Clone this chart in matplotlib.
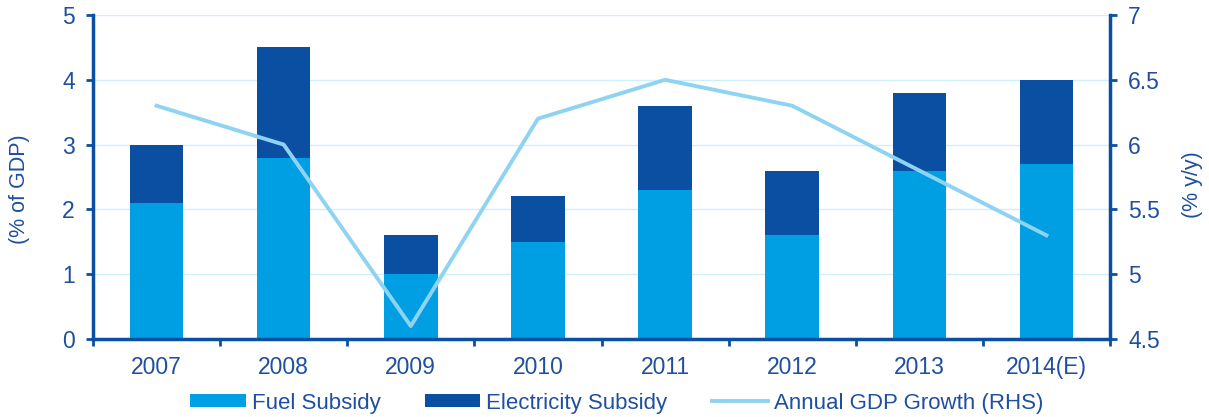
import matplotlib
matplotlib.use("Agg")
import matplotlib.pyplot as plt
import numpy as np

plt.rcParams['font.family'] = ['Liberation Sans', 'DejaVu Sans']

years = ["2007", "2008", "2009", "2010", "2011", "2012", "2013", "2014(E)"]
fuel = [2.1, 2.8, 1.0, 1.5, 2.3, 1.6, 2.6, 2.7]
electricity = [0.9, 1.7, 0.6, 0.7, 1.3, 1.0, 1.2, 1.3]
gdp_growth = [6.3, 6.0, 4.6, 6.2, 6.5, 6.3, 5.8, 5.3]

c_fuel = "#009FE3"
c_elec = "#0B4FA2"
c_line = "#8ED3F2"
c_text = "#1E4FA0"
c_spine = "#0B4FA2"
c_grid = "#CFEFFB"

fig = plt.figure(figsize=(12.09, 4.17), dpi=100)
ax = fig.add_axes([93/1209, 1-339/417, (1110-93)/1209, (339-15)/417])
x = np.arange(len(years))
w = 0.42
b1 = ax.bar(x, fuel, w, color=c_fuel, label="Fuel Subsidy", zorder=2)
b2 = ax.bar(x, electricity, w, bottom=fuel, color=c_elec, label="Electricity Subsidy", zorder=2)
ax.set_ylim(0, 5)
ax.set_xlim(-0.5, len(years)-0.5)
ax.set_yticks(range(6))
ax.yaxis.grid(True, color=c_grid, linewidth=1, zorder=0)
ax.set_axisbelow(True)
ax.set_xticks(x)
ax.set_xticklabels(years)
ax.set_xticks(np.arange(-0.5, len(years)), minor=True)
ax.tick_params(axis='x', which='major', length=0, pad=12, labelsize=16.5, labelcolor=c_text)
ax.tick_params(axis='x', which='minor', length=5, width=2, color=c_spine, direction='out')
ax.tick_params(axis='y', length=5, width=2, color=c_spine, labelsize=16.5, labelcolor=c_text, pad=8)
for s in ['top', 'right']:
    ax.spines[s].set_visible(False)
for s in ['left', 'bottom']:
    ax.spines[s].set_color(c_spine)
    ax.spines[s].set_linewidth(2.5)
ax.set_ylabel("(% of GDP)", fontsize=15.5, color=c_text, va='center')
ax.yaxis.set_label_coords(-0.0718, 0.463)

ax2 = ax.twinx()
ln, = ax2.plot(x, gdp_growth, color=c_line, linewidth=2.8, label="Annual GDP Growth (RHS)", zorder=3)
ax2.set_ylim(4.5, 7)
ax2.set_yticks([4.5, 5, 5.5, 6, 6.5, 7])
ax2.set_yticklabels(["4.5", "5", "5.5", "6", "6.5", "7"])
ax2.tick_params(axis='y', length=5, width=2, color=c_spine, labelsize=16.5, labelcolor=c_text, pad=8)
for s in ['top', 'left', 'bottom']:
    ax2.spines[s].set_visible(False)
ax2.spines['right'].set_color(c_spine)
ax2.spines['right'].set_linewidth(2.5)
ax2.set_ylabel("(% y/y)", fontsize=15.5, color=c_text, va='center')
ax2.yaxis.set_label_coords(1.0816, 0.475)

leg = fig.legend(handles=[b1, b2, ln], loc='center', bbox_to_anchor=(0.51, 1-403/417),
                 ncol=3, frameon=False, fontsize=16, handlelength=2.5, handleheight=0.55,
                 columnspacing=2.0, handletextpad=0.27, borderpad=0, borderaxespad=0)
for t in leg.get_texts():
    t.set_color(c_text)

fig.savefig("out.png", dpi=100)
